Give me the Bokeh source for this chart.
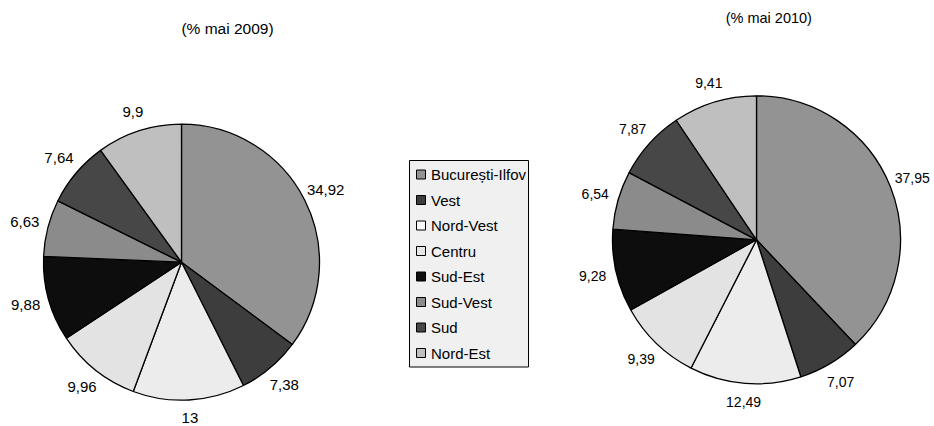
import numpy as np
from bokeh.plotting import figure
from bokeh.models import Range1d, ColumnDataSource
from bokeh.core.properties import value
from bokeh.embed import file_html
from bokeh.resources import INLINE

# ---------------- data ----------------
regions = ["Bucure\u0219ti-Ilfov", "Vest", "Nord-Vest", "Centru",
           "Sud-Est", "Sud-Vest", "Sud", "Nord-Est"]
values_2009 = [34.92, 7.38, 13, 9.96, 9.88, 6.63, 7.64, 9.9]
values_2010 = [37.95, 7.07, 12.49, 9.39, 9.28, 6.54, 7.87, 9.41]
title_2009 = "(% mai 2009)"
title_2010 = "(% mai 2010)"
colors = ["#939393", "#3d3d3d", "#ececec", "#e3e3e3",
          "#0d0d0d", "#8b8b8b", "#474747", "#bfbfbf"]
legend_colors = ["#939393", "#3d3d3d", "#fafafa", "#e6e6e6",
                 "#0d0d0d", "#8b8b8b", "#474747", "#bfbfbf"]

# ---------------- layout ----------------
W, H = 934, 426
FONT = "Liberation Sans"


def px(xp):  # page x -> data x
    return xp


def py(yp):  # page y -> data y
    return H - yp


p = figure(width=W, height=H, x_range=Range1d(0, W), y_range=Range1d(0, H),
           output_backend="svg", toolbar_location=None, min_border=0,
           x_axis_location=None, y_axis_location=None)
p.grid.visible = False
p.outline_line_color = None
p.background_fill_color = "white"
p.border_fill_color = "white"


def draw_pie(vals, cx, cy, r, fsize):
    v = np.array(vals, dtype=float)
    frac = v / v.sum()
    cum_end = np.cumsum(frac)
    cum_start = cum_end - frac
    start = np.pi / 2 - 2 * np.pi * cum_start
    end = np.pi / 2 - 2 * np.pi * cum_end
    src = ColumnDataSource(dict(start=start, end=end, color=colors))
    p.wedge(x=cx, y=cy, radius=r, start_angle="start", end_angle="end",
            direction="clock", fill_color="color", line_color="black",
            line_width=1.3, source=src)
    mid = 2 * np.pi * (cum_start + frac / 2)
    R = r + 18 + 6 * np.abs(np.sin(mid))
    lx = cx + R * np.sin(mid)
    ly = cy + R * np.cos(mid)
    labels = [f"{x:g}".replace(".", ",") for x in vals]
    p.text(x=lx, y=ly, text=labels, text_align="center",
           text_baseline="middle", text_font=value(FONT),
           text_font_size=fsize, text_color="black")


draw_pie(values_2009, px(181), py(261.7), 138, "15px")
draw_pie(values_2010, px(756), py(239.3), 144, "14px")

p.text(x=[px(227)], y=[py(28.3)], text=[title_2009], text_align="center",
       text_baseline="middle", text_font=value(FONT), text_font_size="15.5px",
       text_color="black")
p.text(x=[px(768.3)], y=[py(17.8)], text=[title_2010], text_align="center",
       text_baseline="middle", text_font=value(FONT), text_font_size="14.5px",
       text_color="black")

# ---------------- legend ----------------
LX0, LX1, LY0 = 409, 528, 160
first_y, step = 174, 25.5
n = len(regions)
LY1 = first_y + (n - 1) * step + 14
p.rect(x=[px((LX0 + LX1) / 2)], y=[py((LY0 + LY1) / 2)],
       width=LX1 - LX0, height=LY1 - LY0,
       fill_color="#f0f0f0", line_color="black", line_width=1)
ys = [py(first_y + i * step) for i in range(n)]
p.rect(x=[px(420.5)] * n, y=ys, width=9, height=9,
       fill_color=legend_colors, line_color="black", line_width=1)
p.text(x=[px(430.5)] * n, y=ys, text=regions, text_align="left",
       text_baseline="middle", text_font=value(FONT), text_font_size="15px",
       text_color="black")

open("out.html", "w").write(file_html(p, INLINE))
